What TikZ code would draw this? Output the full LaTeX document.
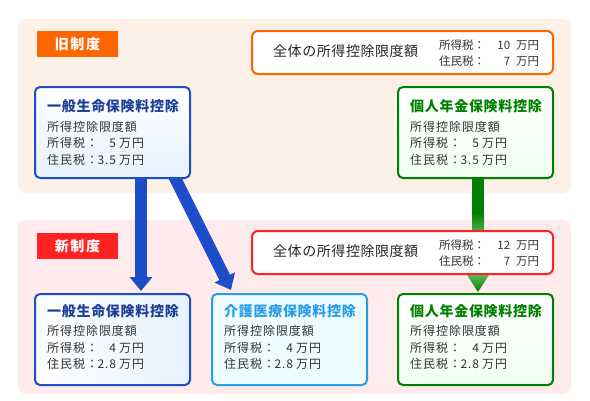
\documentclass[tikz,border=0pt]{standalone}
\usepackage{fontspec}
\setmainfont{Noto Sans CJK JP}
\usetikzlibrary{arrows.meta}
\definecolor{oldbg}{HTML}{FDF0E7}
\definecolor{newbg}{HTML}{FFEBEB}
\definecolor{orangeC}{HTML}{FF6600}
\definecolor{redC}{HTML}{FF2222}
\definecolor{blueC}{HTML}{1E4DC9}
\definecolor{blueT}{HTML}{1D3E98}
\definecolor{cyanC}{HTML}{2A9DE8}
\definecolor{greenC}{HTML}{008000}
\definecolor{greenL}{HTML}{5DB55D}
\definecolor{textC}{HTML}{333333}
\definecolor{blueF}{HTML}{E6F2FF}
\definecolor{cyanF}{HTML}{EDFDFF}
\definecolor{greenF}{HTML}{F0FFF2}
\tikzset{
  panel/.style={draw=none, rounded corners=8pt, inner sep=0pt, outer sep=0pt, anchor=north west, minimum width=553pt, minimum height=174pt},
  tag/.style={inner sep=0pt, outer sep=0pt, anchor=north west, minimum width=81pt, minimum height=26pt, text=white, font=\fontsize{14}{14}\selectfont\bfseries\addfontfeature{LetterSpace=12}},
  infobox/.style={line width=2pt, rounded corners=5pt, inner sep=0pt, outer sep=0pt, anchor=north west, minimum width=155pt, minimum height=91pt},
  totalbox/.style={line width=2pt, rounded corners=6pt, fill=white, inner sep=0pt, outer sep=0pt, anchor=north west, minimum width=301pt, minimum height=43pt},
  boxtitle/.style={anchor=base west, inner sep=0pt, font=\fontsize{14}{14}\selectfont\bfseries\addfontfeature{LetterSpace=5}},
  boxbody/.style={anchor=base west, inner sep=0pt, text=textC, font=\fontsize{12}{12}\selectfont\addfontfeature{LetterSpace=8}},
  totaltitle/.style={anchor=base west, inner sep=0pt, text=black!85, font=\fontsize{14}{14}\selectfont\addfontfeature{LetterSpace=4}},
  totalnum/.style={anchor=base west, inner sep=0pt, text=textC, font=\fontsize{11.5}{11.5}\selectfont},
  bluearrow/.style={draw=blueC, line width=12pt, -{Triangle[width=22pt,length=14pt]}},
}
% name, x, ytop, box style, title colour, title, tax, residence, title baseline
\newcommand\ibox[9]{%
  \node[infobox,#4] (#1) at (#2,#3) {};
  \node[boxtitle,text=#5] (#1-t) at (#2+12,#9) {#6};
  \node[boxbody] (#1-a) at (#2+12,#9+19.8) {所得控除限度額};
  \node[boxbody] (#1-b) at (#2+12,#9+36.2) {所得税：\makebox[18pt][r]{#7}\hspace{3pt}万円};
  \node[boxbody] (#1-c) at (#2+12,#9+52.6) {住民税：\makebox[18pt][r]{#8}\hspace{3pt}万円};
}
\newcommand\tbox[6]{% name, ytop, colour, tax, residence
  \node[totalbox,draw=#3] (#1) at (252,#2) {};
  \node[totaltitle] (#1-t) at (273,#2+25.5) {全体の所得控除限度額};
  \node[totalnum] (#1-a) at (439,#2+18.5) {所得税：\makebox[25pt][r]{#4}\hspace{6pt}万円};
  \node[totalnum] (#1-b) at (439,#2+34) {住民税：\makebox[25pt][r]{#5}\hspace{6pt}万円};
}
\begin{document}
\begin{tikzpicture}[x=1pt,y=-1pt]
\useasboundingbox (0,0) rectangle (590,400);
\fill[white] (0,0) rectangle (590,400);
% panels
\node[panel, fill=oldbg] (oldpanel) at (18,19) {};
\node[panel, fill=newbg] (newpanel) at (18,220) {};
\node[tag, fill=orangeC] (oldtag) at (37,31) {旧制度};
\node[tag, fill=redC] (newtag) at (37,233) {新制度};
% arrows (behind boxes)
\coordinate (a1s) at (141,170);
\coordinate (a1e) at (141,291);
\coordinate (a2s) at (171,170);
\coordinate (a2e) at (231,290);
\draw[bluearrow] (a1s) -- (a1e);
\draw[bluearrow] (a2s) -- (a2e);
\coordinate (gs) at (472,170);
\coordinate (gm) at (484,213);
\coordinate (gb) at (484,234);
\fill[greenC] (gs) rectangle (gm);
\shade[top color=greenC, bottom color=greenL] (gs |- gm) rectangle (gb);
\coordinate (ghl) at (467,275);
\coordinate (ghr) at (489,275);
\coordinate (ght) at (478,292);
\shade[top color=greenL, bottom color=greenC] (ghl) -- (ghr) -- (ght) -- cycle;
% total boxes
\tbox{oldtotal}{31}{orangeC}{10}{7}{}
\tbox{newtotal}{231}{redC}{12}{7}{}
% info boxes, old system
\ibox{oldlife}{35}{87}{draw=blueC, top color=white, bottom color=blueF}{blueT}{一般生命保険料控除}{5}{3.5}{111.5}
\ibox{oldpens}{398}{87}{draw=greenC, top color=white, bottom color=greenF}{greenC}{個人年金保険料控除}{5}{3.5}{111.5}
% info boxes, new system
\ibox{newlife}{35}{294}{draw=blueC, left color=white, right color=blueF}{blueT}{一般生命保険料控除}{4}{2.8}{316}
\ibox{newcare}{212}{294}{draw=cyanC, fill=cyanF}{cyanC}{介護医療保険料控除}{4}{2.8}{316}
\ibox{newpens}{398}{294}{draw=greenC, top color=white, bottom color=greenF}{greenC}{個人年金保険料控除}{4}{2.8}{316}
\end{tikzpicture}
\end{document}
